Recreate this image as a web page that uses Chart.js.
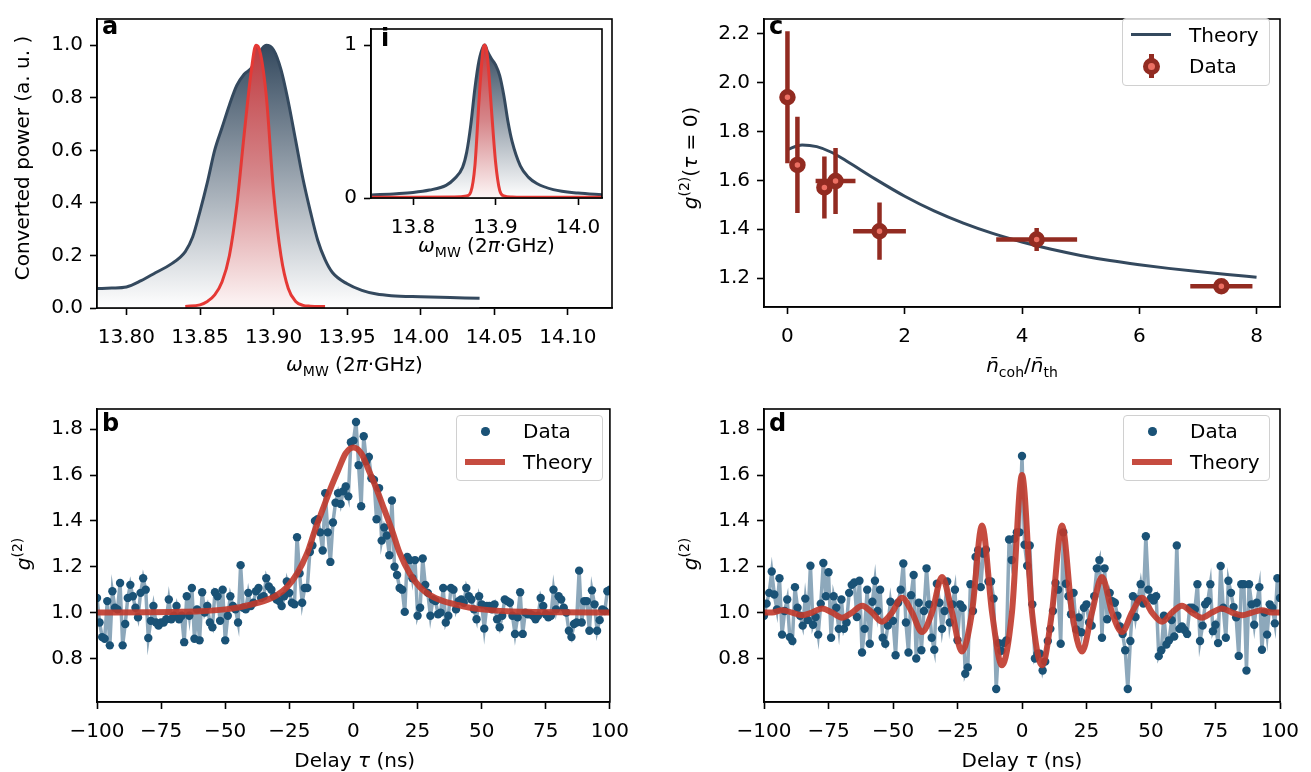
<!DOCTYPE html>
<html>
<head>
<meta charset="utf-8">
<title>g2 panels</title>
<script src="https://cdn.jsdelivr.net/npm/chart.js@4.4.1/dist/chart.umd.min.js"></script>
<style>
  html, body { margin: 0; padding: 0; background: #fff; }
  body { position: relative; width: 1311px; height: 772px; overflow: hidden;
         font-family: 'DejaVu Sans', sans-serif; font-size: 20px; color: #000; }
  canvas { position: absolute; }
  .lbl { position: absolute; white-space: nowrap; line-height: 24px; transform: translate(-50%, -50%); }
  .rot { transform: translate(-50%, -50%) rotate(-90deg); }
  .tag { position: absolute; font-weight: bold; font-size: 24px; line-height: 24px; }
  .m { font-style: italic; }
  .sub { font-size: 14px; position: relative; top: 5px; }
  .sup { font-size: 14px; position: relative; top: -8px; }
  .legend { position: absolute; box-sizing: border-box; border: 1.5px solid #d0d0d0; border-radius: 4px;
            background: rgba(255, 255, 255, 0.8); }
  .legend span { position: absolute; line-height: 24px; transform: translateY(-50%); white-space: nowrap; }
  .legend div { position: absolute; box-sizing: border-box; }
</style>
</head>
<body>
<canvas id="chart-a" width="640" height="355" style="left:0;top:0"></canvas>
<canvas id="chart-c" width="671" height="355" style="left:640px;top:0"></canvas>
<canvas id="chart-b" width="640" height="360" style="left:0;top:390px"></canvas>
<canvas id="chart-d" width="671" height="360" style="left:640px;top:390px"></canvas>
<canvas id="chart-i" width="285" height="240" style="left:330px;top:10px"></canvas>

<div class="tag" style="left:102px;top:14px">a</div>
<div class="tag" style="left:102px;top:411px">b</div>
<div class="tag" style="left:769px;top:14px">c</div>
<div class="tag" style="left:769px;top:411px">d</div>
<div class="tag" style="left:381px;top:26px">i</div>

<div class="lbl" style="left:354.5px;top:365px"><span class="m">ω</span><span class="sub">MW</span> (2<span class="m">π</span>·GHz)</div>
<div class="lbl rot" style="left:22px;top:158px">Converted power (a. u. )</div>
<div class="lbl" style="left:486.5px;top:246px"><span class="m">ω</span><span class="sub">MW</span> (2<span class="m">π</span>·GHz)</div>
<div class="lbl" style="left:1022px;top:366px"><span class="m">n̄</span><span class="sub">coh</span>/<span class="m">n̄</span><span class="sub">th</span></div>
<div class="lbl rot" style="left:691px;top:157.5px"><span class="m">g</span><span class="sup">(2)</span>(<span class="m">τ</span> = 0)</div>
<div class="lbl" style="left:354.75px;top:760px">Delay <span class="m">τ</span> (ns)</div>
<div class="lbl rot" style="left:24px;top:553.5px"><span class="m">g</span><span class="sup">(2)</span></div>
<div class="lbl" style="left:1022px;top:760px">Delay <span class="m">τ</span> (ns)</div>
<div class="lbl rot" style="left:691px;top:553.5px"><span class="m">g</span><span class="sup">(2)</span></div>

<div class="legend" style="left:456px;top:415px;width:147px;height:66px">
  <div style="left:24px;top:11px;width:8.5px;height:8.5px;border-radius:50%;background:#1a5276"></div>
  <span style="left:66px;top:15px">Data</span>
  <div style="left:8px;top:43px;width:40px;height:6px;background:rgba(192,57,43,0.9)"></div>
  <span style="left:66px;top:46px">Theory</span>
</div>
<div class="legend" style="left:1123px;top:415px;width:147px;height:66px">
  <div style="left:24px;top:11px;width:8.5px;height:8.5px;border-radius:50%;background:#1a5276"></div>
  <span style="left:66px;top:15px">Data</span>
  <div style="left:8px;top:43px;width:40px;height:6px;background:rgba(192,57,43,0.9)"></div>
  <span style="left:66px;top:46px">Theory</span>
</div>
<div class="legend" style="left:1122px;top:18px;width:148px;height:68px">
  <div style="left:8px;top:14px;width:40px;height:3px;background:#34495e"></div>
  <span style="left:66px;top:16px">Theory</span>
  <div style="left:26px;top:35px;width:4.5px;height:24px;background:#922b21"></div>
  <div style="left:19.5px;top:38.5px;width:17px;height:17px;border-radius:50%;border:5.5px solid #922b21;background:#ec7063"></div>
  <span style="left:66px;top:47px">Data</span>
</div>

<script>
// Panel a: converted power spectrum (measured + calculated)
const aTicksX = [13.80, 13.85, 13.90, 13.95, 14.00, 14.05, 14.10];
const aTickLabelsX = ['13.80', '13.85', '13.90', '13.95', '14.00', '14.05', '14.10'];
const aTicksY = [0, 0.2, 0.4, 0.6, 0.8, 1.0];
const aTickLabelsY = ['0.0', '0.2', '0.4', '0.6', '0.8', '1.0'];
const aMeasFreq = [13.78, 13.79, 13.80, 13.81, 13.82, 13.83, 13.84, 13.845, 13.85, 13.855, 13.86, 13.865, 13.87,
  13.875, 13.88, 13.885, 13.89, 13.895, 13.90, 13.905, 13.91, 13.915, 13.92, 13.925, 13.93, 13.935, 13.94,
  13.95, 13.96, 13.97, 13.98, 14.00, 14.02, 14.04];
const aMeasPower = [0.074, 0.076, 0.08, 0.104, 0.135, 0.166, 0.215, 0.27, 0.368, 0.478, 0.601, 0.687, 0.773,
  0.847, 0.89, 0.914, 0.969, 1.0, 0.982, 0.908, 0.785, 0.638, 0.491, 0.368, 0.258, 0.184, 0.135,
  0.092, 0.067, 0.053, 0.047, 0.043, 0.04, 0.037];
const aCalcFreq = [13.84, 13.85, 13.855, 13.86, 13.865, 13.87, 13.875, 13.88, 13.885, 13.888, 13.89, 13.895,
  13.90, 13.905, 13.91, 13.915, 13.92, 13.925, 13.935];
const aCalcPower = [0.006, 0.012, 0.025, 0.05, 0.1, 0.2, 0.39, 0.66, 0.91, 1.0, 0.99, 0.81,
  0.44, 0.2, 0.074, 0.025, 0.01, 0.007, 0.006];

// Inset i
const iTicksX = [13.8, 13.9, 14.0];
const iTickLabelsX = ['13.8', '13.9', '14.0'];
const iTicksY = [0, 1];
const iTickLabelsY = ['0', '1'];
const iMeasFreq = [13.75, 13.78, 13.80, 13.82, 13.84, 13.85, 13.86, 13.865, 13.87, 13.875, 13.88, 13.885, 13.887,
  13.89, 13.895, 13.90, 13.905, 13.91, 13.915, 13.92, 13.93, 13.94, 13.95, 13.97, 14.00, 14.03];
const iMeasPower = [0.02, 0.028, 0.036, 0.052, 0.083, 0.125, 0.2, 0.3, 0.48, 0.72, 0.9, 0.99, 1.0,
  0.96, 0.91, 0.87, 0.8, 0.67, 0.5, 0.37, 0.21, 0.135, 0.095, 0.055, 0.032, 0.021];
const iCalcFreq = [13.75, 13.80, 13.85, 13.865, 13.87, 13.875, 13.88, 13.885, 13.887, 13.89, 13.895, 13.90,
  13.905, 13.91, 13.92, 13.95, 14.03];
const iCalcPower = [0.005, 0.005, 0.007, 0.014, 0.04, 0.214, 0.643, 0.98, 1.0, 0.93, 0.58, 0.235,
  0.05, 0.014, 0.007, 0.005, 0.005];

// Panel c: g2(0) vs coherent/thermal ratio
const cTicksX = [0, 2, 4, 6, 8];
const cTickLabelsX = ['0', '2', '4', '6', '8'];
const cTicksY = [1.2, 1.4, 1.6, 1.8, 2.0, 2.2];
const cTickLabelsY = ['1.2', '1.4', '1.6', '1.8', '2.0', '2.2'];
const cRatio = [0, 0.17, 0.63, 0.82, 1.57, 4.25, 7.4];
const cG2 = [1.94, 1.663, 1.571, 1.597, 1.392, 1.358, 1.167];
const cRatioErr = [0.02, 0.03, 0.1, 0.34, 0.45, 0.69, 0.53];
const cG2Err = [0.27, 0.197, 0.127, 0.135, 0.117, 0.047, 0.01];
const cTheoryRatio = [0, 0.25, 0.5, 0.75, 1, 1.5, 2, 2.5, 3, 3.5, 4, 4.5, 5, 5.5, 6, 6.5, 7, 7.5, 8];
const cTheoryG2 = [1.726, 1.745, 1.738, 1.715, 1.68, 1.605, 1.535, 1.475, 1.425, 1.383, 1.348, 1.318, 1.293,
  1.272, 1.255, 1.24, 1.227, 1.215, 1.204];

// Panels b and d: delay axis
const tauTicks = [-100, -75, -50, -25, 0, 25, 50, 75, 100];
const tauTickLabels = ['\u2212100', '\u221275', '\u221250', '\u221225', '0', '25', '50', '75', '100'];
const g2Ticks = [0.8, 1.0, 1.2, 1.4, 1.6, 1.8];
const g2TickLabels = ['0.8', '1.0', '1.2', '1.4', '1.6', '1.8'];
const tauStart = -100; // 1 ns bins

const bData = [1.064, 0.957, 0.893, 0.886, 1.05, 0.857, 1.093, 1.021, 1.014, 1.129, 0.857, 0.95, 1.064, 1.121,
  1.071, 1.021, 0.979, 1.086, 1.15, 1.1, 0.889, 0.964, 1.029, 0.957, 0.943, 0.957, 0.957, 0.971, 1.057, 0.971,
  0.986, 1.029, 0.971, 0.986, 0.871, 1.071, 0.986, 1.107, 0.886, 1.014, 0.879, 1.089, 1.0, 1.029, 0.957, 0.936,
  1.089, 1.071, 0.964, 1.1, 0.879, 0.986, 1.071, 1.029, 1.014, 0.957, 1.207, 1.021, 1.014, 1.086, 1.029, 1.043,
  1.093, 1.107, 1.064, 1.071, 1.15, 1.114,
  1.1, 1.071, 1.057, 1.05, 1.029, 1.071, 1.136, 1.086, 1.043, 1.036, 1.329, 1.171, 1.043, 1.107, 1.107, 1.264,
  1.293, 1.4, 1.407, 1.35, 1.271, 1.521, 1.35, 1.221, 1.393, 1.479, 1.521, 1.474, 1.529, 1.55, 1.507, 1.743,
  1.75, 1.831, 1.643, 1.464, 1.769, 1.66, 1.679, 1.586, 1.579, 1.407, 1.543, 1.314, 1.371, 1.336, 1.25, 1.489,
  1.2, 1.164, 1.107, 1.1, 1.003, 1.243, 1.229, 1.15, 1.229, 0.986, 1.021, 1.236, 1.121, 1.086, 0.986, 1.057,
  1.05, 0.993,
  1.0, 1.107, 0.957, 0.986, 1.107, 1.1, 1.014, 1.05, 1.057, 1.043, 1.107, 1.071, 1.057, 1.014, 0.971, 1.071,
  1.036, 0.93, 1.029, 1.029, 1.014, 1.036, 0.971, 0.936, 0.986, 1.057, 1.05, 1.043, 0.986, 0.907, 0.979, 1.089,
  0.907, 1.0, 0.993, 0.993, 0.986, 0.971, 0.986, 1.064, 1.029, 0.993, 0.979, 0.986, 1.1, 1.014, 1.071, 1.057,
  1.021, 1.0, 0.921, 0.893, 0.95, 0.957, 1.183, 0.957, 1.05, 1.05, 0.921, 1.097, 1.036, 0.921, 0.967, 1.014,
  1.007, 1.093, 1.1];
const bTheoryTau = [-100, -80, -70, -60, -50, -45, -40, -35, -30, -26, -22, -18, -15, -12, -9, -6, -3, 0,
  3, 6, 9, 12, 15, 18, 22, 26, 30, 35, 40, 45, 50, 60, 70, 80, 100];
const bTheoryG2 = [1.0, 1.001, 1.003, 1.006, 1.014, 1.022, 1.035, 1.05, 1.075, 1.11, 1.17, 1.26, 1.36, 1.45,
  1.54, 1.62, 1.695, 1.72, 1.695, 1.62, 1.54, 1.45, 1.36, 1.26, 1.17, 1.11, 1.075, 1.05, 1.035, 1.022, 1.014,
  1.006, 1.003, 1.001, 1.0];

const dData = [0.986, 1.039, 1.086, 1.179, 1.079, 1.014, 1.15, 0.904, 1.007, 1.057, 0.893, 0.876, 1.111, 1.021,
  0.986, 0.943, 1.061, 0.967, 1.204, 0.947, 0.981, 0.904, 1.039, 1.216, 1.071, 1.176, 0.89, 1.071, 1.021, 0.929,
  1.057, 0.929, 0.957, 1.086, 1.121, 1.131, 0.981, 1.139, 0.826, 0.929, 1.1, 0.864, 1.047, 1.139, 1.007, 1.1,
  0.89, 0.864, 0.943, 1.047, 0.964, 0.814, 1.043, 1.1, 1.214, 0.957, 0.826, 1.076, 1.164, 0.8, 1.043, 0.836,
  1.007, 1.193, 1.036, 0.89, 0.838, 1.126, 1.043, 0.929,
  1.007, 1.136, 0.957, 1.036, 1.1, 0.879, 1.036, 1.021, 0.733, 0.761, 1.124, 1.007, 1.243, 1.272, 1.111, 1.257,
  1.274, 1.136, 1.136, 1.061, 0.667, 0.867, 0.833, 0.867, 0.879, 1.319, 1.229, 1.322, 1.35, 1.35, 1.683, 1.296,
  1.204, 1.293, 1.036, 0.8, 0.821, 0.821, 0.747, 0.786, 0.876, 0.929, 1.007, 1.129, 1.1, 0.864, 1.35, 1.126,
  1.071, 0.993, 1.086, 0.926, 0.979, 0.914, 1.021, 1.036, 0.957, 0.943, 1.071, 1.193, 1.229, 0.89, 1.193,
  0.971, 1.086, 1.05, 1.043, 0.986, 0.939, 0.907, 0.836, 0.667, 0.876, 1.071, 0.981, 1.057, 1.124, 1.039, 1.333,
  1.1, 1.064, 1.053, 1.071, 0.81, 0.836, 0.986, 0.861, 0.879, 0.967, 0.896, 1.293, 0.929, 0.939, 0.924, 0.907,
  1.021, 1.021, 1.014, 1.124, 0.876, 0.943, 1.036, 1.05, 1.124, 0.919, 0.947, 0.867, 1.203, 1.021, 0.89, 1.139,
  1.086, 1.024, 0.979, 0.811, 1.124, 1.124, 0.747, 1.124, 1.036, 0.947, 1.043, 1.111, 0.838, 1.0, 0.904, 1.036,
  1.021, 0.953, 1.15, 1.064];
const dTheoryTau = [-100, -96.9, -93, -89.1, -85.3, -81.4, -77.5, -73.6, -69.8, -65.9, -62, -58.1, -54.3,
  -50.4, -46.5, -42.6, -38.8, -34.9, -31, -27.1, -23.3, -19.4, -15.5, -11.6, -7.8, -3.9, 0, 3.9, 7.8, 11.6,
  15.5, 19.4, 23.3, 27.1, 31, 34.9, 38.8, 42.6, 46.5, 50.4, 54.3, 58.1, 62, 65.9, 69.8, 73.6, 77.5, 81.4, 85.3,
  89.1, 93, 96.9, 100];
const dTheoryG2 = [1.0, 1.0, 1.01, 1.0, 0.988, 1.0, 1.018, 1.0, 0.978, 1.0, 1.03, 1.0, 0.96, 1.0, 1.065, 1.0,
  0.915, 1.0, 1.155, 1.0, 0.83, 1.0, 1.38, 1.0, 0.77, 1.0, 1.6, 1.0, 0.77, 1.0, 1.38, 1.0, 0.83, 1.0, 1.155,
  1.0, 0.915, 1.0, 1.065, 1.0, 0.96, 1.0, 1.03, 1.0, 0.978, 1.0, 1.018, 1.0, 0.988, 1.0, 1.01, 1.0, 1.0];

// ---- helpers ----
Chart.defaults.font.family = "'DejaVu Sans', sans-serif";
Chart.defaults.font.size = 20;
Chart.defaults.color = '#000';

function pts(xs, ys) {
  return xs.map((x, i) => ({ x: x, y: ys[i] }));
}

function binned(values) {
  return values.map((v, i) => ({ x: tauStart + i, y: v }));
}

function vGradient(stops) {
  return function (context) {
    const chart = context.chart;
    if (!chart.chartArea) return stops[0][1];
    const ys = chart.scales.y;
    const g = chart.ctx.createLinearGradient(0, ys.getPixelForValue(1), 0, ys.getPixelForValue(0));
    stops.forEach((s) => g.addColorStop(s[0], s[1]));
    return g;
  };
}

const darkStops = [[0, '#34495e'], [1, '#ffffff']];
const redStops = [[0, '#bf3a3f'], [0.5, '#d6878b'], [1, '#fdf6f6']];

// box around the axes, white face for the inset
const framePlugin = {
  id: 'frame',
  beforeDraw(chart, args, opts) {
    if (!opts.fill) return;
    const a = chart.chartArea;
    chart.ctx.save();
    chart.ctx.fillStyle = '#ffffff';
    chart.ctx.fillRect(a.left, a.top, a.right - a.left, a.bottom - a.top);
    chart.ctx.restore();
  },
  afterDraw(chart) {
    const a = chart.chartArea;
    const ctx = chart.ctx;
    ctx.save();
    ctx.strokeStyle = '#000';
    ctx.lineWidth = 1.6;
    ctx.strokeRect(a.left, a.top, a.right - a.left, a.bottom - a.top);
    ctx.restore();
  }
};

function axis(min, max, tickVals, tickText, dir, size) {
  return {
    type: 'linear',
    min: min,
    max: max,
    afterBuildTicks: (scale) => { scale.ticks = tickVals.map((v) => ({ value: v })); },
    afterFit: (scale) => {
      if (dir === 'x') scale.height = size;
      else scale.width = size;
    },
    ticks: {
      autoSkip: false,
      maxRotation: 0,
      minRotation: 0,
      padding: dir === 'x' ? 11 : 7,
      color: '#000',
      font: { size: 20 },
      callback: (v, i) => tickText[i]
    },
    grid: { drawOnChartArea: false, drawTicks: true, tickLength: 7, tickWidth: 1.6, tickColor: '#000', color: '#000' },
    border: { display: true, color: '#000', width: 1.6 }
  };
}

function makeChart(id, datasets, xs, ys, box) {
  return new Chart(document.getElementById(id), {
    type: 'scatter',
    data: { datasets: datasets },
    options: {
      responsive: false,
      animation: false,
      events: [],
      devicePixelRatio: 1,
      layout: { padding: { top: box.top, right: box.right, left: 0, bottom: 0 } },
      plugins: { legend: { display: false }, tooltip: { enabled: false }, frame: { fill: !!box.fill } },
      scales: { x: xs, y: ys }
    },
    plugins: [framePlugin]
  });
}

function curve(data, color, width, fillStops) {
  const ds = {
    data: data,
    showLine: true,
    borderColor: color,
    borderWidth: width,
    pointRadius: 0,
    cubicInterpolationMode: 'monotone',
    fill: false
  };
  if (fillStops) {
    ds.fill = 'origin';
    ds.backgroundColor = vGradient(fillStops);
  }
  return ds;
}

// ---- panel a ----
makeChart('chart-a',
  [
    curve(pts(aCalcFreq, aCalcPower), '#e53935', 3, redStops),
    curve(pts(aMeasFreq, aMeasPower), '#34495e', 3, darkStops)
  ],
  axis(13.78, 14.13, aTicksX, aTickLabelsX, 'x', 47),
  axis(0, 1.1, aTicksY, aTickLabelsY, 'y', 97),
  { top: 8, right: 28 });

// ---- inset ----
makeChart('chart-i',
  [
    curve(pts(iCalcFreq, iCalcPower), '#e53935', 3, redStops),
    curve(pts(iMeasFreq, iMeasPower), '#34495e', 3, darkStops)
  ],
  axis(13.749, 14.029, iTicksX, iTickLabelsX, 'x', 52),
  axis(0, 1.105, iTicksY, iTickLabelsY, 'y', 41),
  { top: 8, right: 13, fill: true });

// ---- panel c ----
const cBarsV = [];
const cBarsH = [];
cRatio.forEach((x, i) => {
  cBarsV.push({ x: x, y: cG2[i] - cG2Err[i] }, { x: x, y: cG2[i] + cG2Err[i] }, { x: x, y: null });
  cBarsH.push({ x: x - cRatioErr[i], y: cG2[i] }, { x: x + cRatioErr[i], y: cG2[i] }, { x: x, y: null });
});

makeChart('chart-c',
  [
    {
      data: pts(cRatio, cG2),
      showLine: false,
      pointRadius: 5.5,
      pointBorderWidth: 5.5,
      pointBackgroundColor: '#ec7063',
      pointBorderColor: '#922b21'
    },
    { data: cBarsH, showLine: true, spanGaps: false, borderColor: '#922b21', borderWidth: 4.5, pointRadius: 0 },
    { data: cBarsV, showLine: true, spanGaps: false, borderColor: '#922b21', borderWidth: 4.5, pointRadius: 0 },
    curve(pts(cTheoryRatio, cTheoryG2), '#34495e', 3, null)
  ],
  axis(-0.4, 8.4, cTicksX, cTickLabelsX, 'x', 48),
  axis(1.082, 2.26, cTicksY, cTickLabelsY, 'y', 124),
  { top: 8, right: 31 });

// ---- panels b and d ----
function g2Panel(id, values, theoryTau, theoryG2, yw, right) {
  makeChart(id,
    [
      curve(pts(theoryTau, theoryG2), 'rgba(192, 57, 43, 0.9)', 6, null),
      {
        data: binned(values),
        showLine: true,
        borderColor: '#8da8bb',
        borderWidth: 3.5,
        pointRadius: 4.2,
        pointBorderWidth: 0,
        pointBackgroundColor: '#1a5276',
        tension: 0
      }
    ],
    axis(-100, 100, tauTicks, tauTickLabels, 'x', 48),
    axis(0.61, 1.888, g2Ticks, g2TickLabels, 'y', yw),
    { top: 15, right: right });
}

g2Panel('chart-b', bData, bTheoryTau, bTheoryG2, 97, 27.5);
g2Panel('chart-d', dData, dTheoryTau, dTheoryG2, 124, 31);
</script>
</body>
</html>
